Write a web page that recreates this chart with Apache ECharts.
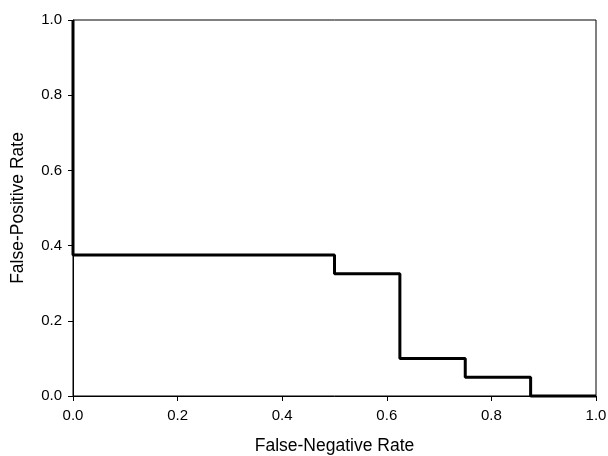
<!DOCTYPE html>
<html>
<head>
<meta charset="utf-8">
<script src="https://cdn.jsdelivr.net/npm/echarts@6/dist/echarts.min.js"></script>
<style>
  html, body { margin: 0; padding: 0; background: #fff; }
  #chart { width: 608px; height: 456px; }
</style>
</head>
<body>
<div id="chart"></div>
<script>
// step curve points: false-negative rate vs false-positive rate
var fnRate = [0, 0, 0, 0.5, 0.5, 0.625, 0.625, 0.75, 0.75, 0.875, 0.875, 1.0];
var fpRate = [1.0, 0.925, 0.375, 0.375, 0.325, 0.325, 0.1, 0.1, 0.05, 0.05, 0, 0];
var tickLabels = ["0.0", "0.2", "0.4", "0.6", "0.8", "1.0"];

var points = fnRate.map(function (x, i) { return [x, fpRate[i]]; });

var myChart = echarts.init(document.getElementById("chart"));
var font = "Liberation Sans, Arial, sans-serif";
var option = {
  backgroundColor: "#fff",
  animation: false,
  grid: {
    left: 73,
    right: 12,
    top: 20,
    bottom: 60,
    outerBoundsMode: "none",
    containLabel: false,
    show: true,
    borderColor: "#000",
    borderWidth: 1,
  },
  xAxis: {
    type: "value",
    min: 0,
    max: 1,
    interval: 0.2,
    name: "False-Negative Rate",
    nameLocation: "middle",
    nameGap: 41,
    nameTextStyle: { fontFamily: font, fontSize: 17.5, color: "#000" },
    axisLine: { show: true, lineStyle: { color: "#000", width: 1 } },
    axisTick: { show: true, inside: false, length: 5, lineStyle: { color: "#000" } },
    splitLine: { show: false },
    axisLabel: {
      fontFamily: font,
      fontSize: 15,
      color: "#000",
      margin: 12,
      formatter: function (v) { return tickLabels[Math.round(v * 5)]; },
    },
  },
  yAxis: {
    type: "value",
    min: 0,
    max: 1,
    interval: 0.2,
    name: "False-Positive Rate",
    nameLocation: "middle",
    nameGap: 46,
    nameRotate: 90,
    nameTextStyle: { fontFamily: font, fontSize: 17.5, color: "#000" },
    axisLine: { show: true, lineStyle: { color: "#000", width: 1 } },
    axisTick: { show: true, inside: false, length: 5, lineStyle: { color: "#000" } },
    splitLine: { show: false },
    axisLabel: {
      fontFamily: font,
      fontSize: 15,
      color: "#000",
      margin: 11,
      formatter: function (v) { return tickLabels[Math.round(v * 5)]; },
    },
  },
  series: [
    {
      type: "line",
      data: points,
      showSymbol: false,
      lineStyle: { color: "#000", width: 3 },
      clip: false,
    },
  ],
};
myChart.setOption(option);
</script>
</body>
</html>
